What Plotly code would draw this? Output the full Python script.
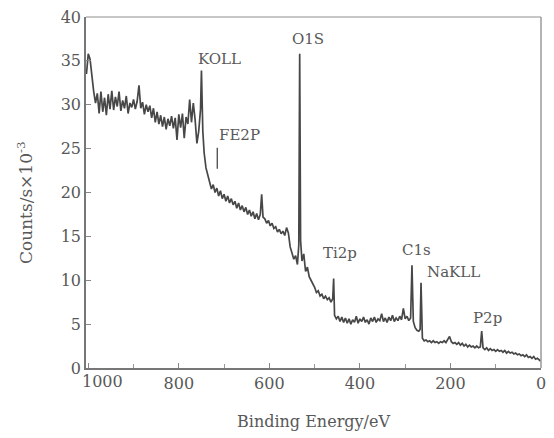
import plotly.graph_objects as go

# Binding energy (eV) and counts (x10^-3 counts/s)
energy_hi = [1004, 1000, 996, 992, 988, 984, 980, 976, 972, 968, 964, 960, 956, 952, 948, 944,
             940, 936, 932, 928, 924, 920, 916, 912, 908, 904, 900, 896, 892, 888, 884, 880,
             876, 872, 868, 864, 860, 856, 852, 848, 844, 840, 836, 832, 828, 824, 820, 816,
             812, 808, 804, 800, 796, 792, 788, 784, 780, 776, 772, 768, 764, 760, 756, 752,
             750, 747, 744, 740, 736, 732, 728, 724, 720]
counts_hi = [33.5, 35.8, 35.2, 33.0, 31.5, 30.2, 31.3, 29.0, 31.5, 29.2, 30.8, 28.8, 31.2, 29.5, 31.6, 29.4,
             30.9, 29.8, 31.5, 29.3, 30.5, 29.6, 31.0, 29.0, 30.2, 29.7, 30.6, 29.5, 30.4, 32.2, 29.6, 30.3,
             28.9, 30.0, 29.2, 29.9, 28.5, 29.6, 28.0, 29.2, 27.8, 28.8, 27.5, 28.6, 27.2, 28.4, 27.6, 28.7,
             27.3, 28.5, 26.0, 28.9, 27.4, 29.0, 26.2, 28.6, 27.8, 30.6, 28.0, 30.2, 28.3, 25.6, 27.0, 29.5,
             33.9, 27.0, 24.5, 22.8, 21.8, 21.2, 20.4, 20.9, 20.0]

energy_mid = [716, 712, 708, 704, 700, 696, 692, 688, 684, 680, 676, 672, 668, 664, 660, 656,
              652, 648, 644, 640, 636, 632, 628, 624, 620, 617, 614, 610, 606, 602, 598, 594,
              590, 586, 582, 578, 574, 570, 566, 562, 558, 554, 550, 546, 542, 538, 535, 533,
              531, 528, 524, 520, 516, 512, 508, 504, 500, 496, 492, 488, 484, 480, 476, 472,
              468, 464, 460, 458, 456]
counts_mid = [20.5, 19.6, 20.2, 19.3, 19.8, 19.0, 19.6, 18.8, 19.3, 18.6, 19.0, 18.2, 18.8, 18.0, 18.5, 17.8,
              18.3, 17.5, 18.0, 17.3, 17.8, 17.0, 17.6, 16.9, 17.5, 19.8, 17.2, 17.0, 16.5, 16.8, 16.2, 16.5,
              15.9, 16.1, 15.5, 15.8, 15.3, 15.6, 15.1, 16.0, 15.4, 13.8, 13.0, 12.4, 12.8, 11.8, 14.0, 35.8,
              14.5, 12.2, 13.0, 11.0, 11.5, 10.4, 10.0, 9.6, 9.2, 8.6, 8.8, 8.2, 8.4, 7.9, 8.2, 7.8,
              8.0, 7.5, 7.9, 10.2, 6.0]

energy_lo = [452, 448, 444, 440, 436, 432, 428, 424, 420, 416, 412, 408, 404, 400, 396, 392,
             388, 384, 380, 376, 372, 368, 364, 360, 356, 352, 348, 344, 340, 336, 332, 328,
             324, 320, 316, 312, 308, 304, 300, 296, 292, 288, 285, 282, 278, 274, 270, 267,
             265, 262, 258, 254, 250, 246, 242, 238, 234, 230, 226, 222, 218, 214, 210, 206,
             202, 198, 194, 190, 186, 182, 178, 174, 170, 166, 162, 158, 154, 150, 146, 142,
             138, 134, 131, 128, 124, 120, 116, 112, 108, 104, 100, 96, 92, 88, 84, 80,
             76, 72, 68, 64, 60, 56, 52, 48, 44, 40, 36, 32, 28, 24, 20, 16,
             12, 8, 4, 1]
counts_lo = [5.6, 5.9, 5.3, 5.8, 5.2, 5.7, 5.1, 5.6, 5.0, 5.5, 5.2, 5.9, 5.1, 5.6, 5.3, 5.8,
             5.2, 5.5, 5.0, 5.7, 5.3, 5.8, 5.2, 5.6, 5.4, 6.2, 5.3, 5.7, 5.2, 5.8, 5.4, 6.0,
             5.3, 5.7, 5.4, 5.9, 5.5, 6.8, 5.6, 5.9, 5.4, 5.7, 11.7, 5.3, 4.6, 4.3, 4.2, 4.4,
             9.7, 3.4, 3.1, 3.2, 3.0, 3.1, 2.9, 3.1, 2.9, 3.0, 2.8, 3.0, 2.9, 3.1, 2.9, 3.2,
             3.6, 3.0, 2.8, 2.9, 2.7, 2.9, 2.6, 2.8, 2.5, 2.7, 2.4, 2.6, 2.4, 2.5, 2.3, 2.5,
             2.3, 2.4, 4.2, 2.3, 2.1, 2.3, 2.0, 2.2, 2.0, 2.1, 1.9, 2.1, 1.9, 2.0, 1.8, 2.0,
             1.7, 1.9, 1.7, 1.8, 1.6, 1.7, 1.5, 1.6, 1.4, 1.5, 1.3, 1.5, 1.2, 1.3, 1.1, 1.3,
             1.0, 1.1, 0.9, 0.8]

peak_labels = ["KOLL", "FE2P", "O1S", "Ti2p", "C1s", "NaKLL", "P2p"]
label_x = [711, 665, 514, 444, 276, 193, 118]
label_y = [35.2, 26.5, 37.5, 13.1, 13.4, 10.9, 5.7]

x_ticks = [1000, 800, 600, 400, 200, 0]
x_ticktext = ["", "800", "600", "400", "200", "0"]
y_ticks = [0, 5, 10, 15, 20, 25, 30, 35, 40]

energy = energy_hi + energy_mid + energy_lo
counts = counts_hi + counts_mid + counts_lo

FONT = "DejaVu Serif, serif"
TXT = "#585858"

fig = go.Figure()
fig.add_trace(go.Scatter(x=energy, y=counts, mode="lines",
                         line=dict(color="#474747", width=1.7), showlegend=False))

# FE2P marker tick
fig.add_trace(go.Scatter(x=[715, 715], y=[25.1, 22.7], mode="lines",
                         line=dict(color="#555555", width=1.4), showlegend=False))

for t, xx, yy in zip(peak_labels, label_x, label_y):
    fig.add_annotation(x=xx, y=yy, text=t, showarrow=False,
                       font=dict(family=FONT, size=15, color=TXT))

# "1000" tick label, set slightly inward as in the reference
fig.add_annotation(x=1000, y=0, yref="y", text="1000", showarrow=False,
                   xshift=14, yshift=-13,
                   font=dict(family=FONT, size=16, color=TXT))

fig.add_annotation(xref="paper", yref="paper", x=0.5, y=0, yshift=-53,
                   xanchor="center", yanchor="middle",
                   text="Binding Energy/eV", showarrow=False,
                   font=dict(family=FONT, size=16, color=TXT))
fig.add_annotation(xref="paper", yref="paper", x=0, xshift=-61, y=0.47,
                   xanchor="center", yanchor="middle",
                   text="Counts/s×10<sup>-3</sup>", textangle=-90, showarrow=False,
                   font=dict(family=FONT, size=17, color=TXT))

# top and right frame lines (lighter)
fig.add_shape(type="line", xref="paper", yref="paper", x0=0, x1=1, y0=1, y1=1,
              line=dict(color="#b5b5b5", width=1.5))
fig.add_shape(type="line", xref="paper", yref="paper", x0=1, x1=1, y0=0, y1=1,
              line=dict(color="#9a9a9a", width=1.5))

fig.update_layout(
    width=554, height=438,
    margin=dict(l=86, r=8, t=15, b=70),
    paper_bgcolor="white", plot_bgcolor="white",
    font=dict(family=FONT, size=16, color=TXT),
    xaxis=dict(range=[1005, 0], tickvals=x_ticks, ticktext=x_ticktext,
               ticks="inside", ticklen=5,
               tickcolor="#888888", showgrid=False, zeroline=False,
               showline=True, linecolor="#777777", linewidth=1.5,
               minor=dict(dtick=100, ticks="inside", ticklen=4, tickcolor="#999999"),
               tickfont=dict(family=FONT, size=16, color=TXT)),
    yaxis=dict(range=[0, 40], tickvals=y_ticks, ticks="inside", ticklen=5,
               tickcolor="#888888", showgrid=False, zeroline=False,
               showline=True, linecolor="#777777", linewidth=1.5,
               tickfont=dict(family=FONT, size=16, color=TXT)),
)

fig.write_html("out.html", config={"displayModeBar": False},
               post_script="document.body.style.margin='0';")
